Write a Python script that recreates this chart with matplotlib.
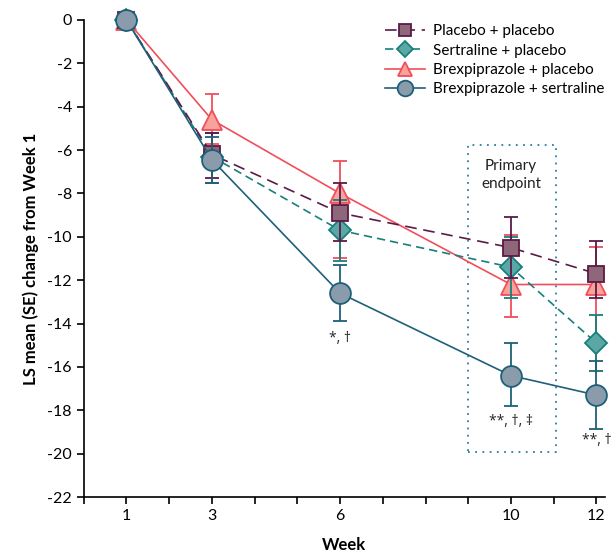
import matplotlib.pyplot as plt
from matplotlib.patches import Rectangle

plt.rcParams['font.family'] = ['Lato', 'DejaVu Sans']
plt.rcParams['axes.unicode_minus'] = False

# weeks with measurements
weeks = [1, 3, 6, 10, 12]

# LS mean change from week 1 for each arm
placebo = [0, -6.2, -8.9, -10.5, -11.7]
sertraline = [0, -6.3, -9.7, -11.4, -14.9]
brexpiprazole = [0, -4.6, -8.0, -12.2, -12.2]
brex_sert = [0, -6.45, -12.6, -16.4, -17.3]

# SE bars (lower, upper)
placebo_lo = [0, 1.1, 1.3, 1.4, 1.1]
placebo_hi = [0, 1.0, 1.4, 1.4, 1.5]
sertraline_lo = [0, 1.2, 1.4, 1.4, 1.3]
sertraline_hi = [0, 1.1, 1.4, 1.4, 1.3]
brex_lo = [0, 1.1, 3.0, 1.5, 4.0]
brex_hi = [0, 1.2, 1.5, 2.3, 1.75]
brex_sert_lo = [0, 1.05, 1.3, 1.4, 1.55]
brex_sert_hi = [0, 1.05, 1.3, 1.5, 1.55]

# significance annotations under the combination arm
sig_weeks = [6, 10, 12]
sig_labels = ['*, \u2020', '**, \u2020, \u2021', '**, \u2020']
sig_y = [-14.7, -18.5, -19.4]

fig, ax = plt.subplots(figsize=(6.16, 5.55), dpi=100)
fig.subplots_adjust(left=0.136, right=0.982, top=0.964, bottom=0.1045)

series = [
    # label, values, lo, hi, marker, ms, line colour, fill, linestyle, zorder
    ('Brexpiprazole + placebo', brexpiprazole, brex_lo, brex_hi, '^', 14, '#f04e5a', '#f7a39b', '-', 3),
    ('Sertraline + placebo', sertraline, sertraline_lo, sertraline_hi, 'D', 11, '#17807c', '#5ba7a5', (0, (5, 3)), 4),
    ('Placebo + placebo', placebo, placebo_lo, placebo_hi, 's', 12, '#5b1a47', '#8e6879', (0, (7, 4)), 5),
    ('Brexpiprazole + sertraline', brex_sert, brex_sert_lo, brex_sert_hi, 'o', 15, '#1e6079', '#8a9cab', '-', 6),
]

handles = {}
for label, vals, lo, hi, mk, ms, col, fill, ls, z in series:
    ax.errorbar(weeks, vals, yerr=[lo, hi], fmt='none', ecolor=col,
                elinewidth=1.3, capsize=5, capthick=1.3, zorder=z, clip_on=False)
    line, = ax.plot(weeks, vals, color=col, linestyle=ls, linewidth=1.2,
                    marker=mk, markersize=ms, markerfacecolor=fill,
                    markeredgecolor=col, markeredgewidth=1.3, zorder=z + 0.5,
                    clip_on=False, label=label)
    handles[label] = line

for w, txt, y in zip(sig_weeks, sig_labels, sig_y):
    ax.text(w, y, txt, ha='center', va='center', fontsize=10, color='#222222',
            family=['Open Sans', 'DejaVu Sans'])

# primary endpoint box
box = Rectangle((9.0, -19.93), 2.05, 14.16, fill=False, edgecolor='#2b7ea0',
                linestyle=(0, (1, 3)), linewidth=1.3, zorder=1)
ax.add_patch(box)
ax.text(10.0, -7.15, 'Primary\nendpoint', ha='center', va='center',
        fontsize=11, color='#222222', linespacing=1.3)

ax.set_xlim(0, 12.2)
ax.set_ylim(-22, 0)
ax.set_xticks(range(0, 13))
ax.set_xticklabels(['' if i not in weeks else str(i) for i in range(0, 13)])
ax.set_yticks(range(-22, 1, 2))
ax.tick_params(axis='both', direction='out', length=5, width=1.2, labelsize=11.5)
ax.spines['top'].set_visible(False)
ax.spines['right'].set_visible(False)
ax.spines['left'].set_linewidth(1.2)
ax.spines['bottom'].set_linewidth(1.2)

ax.set_xlabel('Week', fontsize=12, fontweight='bold', labelpad=10)
ax.set_ylabel('LS mean (SE) change from Week 1', fontsize=12, fontweight='bold', labelpad=6)

order = ['Placebo + placebo', 'Sertraline + placebo', 'Brexpiprazole + placebo',
         'Brexpiprazole + sertraline']
ax.legend([handles[k] for k in order], order, loc='upper right',
          bbox_to_anchor=(1.025, 1.02), frameon=False, fontsize=11,
          handlelength=2.6, labelspacing=0.35, handletextpad=0.5,
          markerscale=0.75)

plt.savefig('out.png', dpi=100)
